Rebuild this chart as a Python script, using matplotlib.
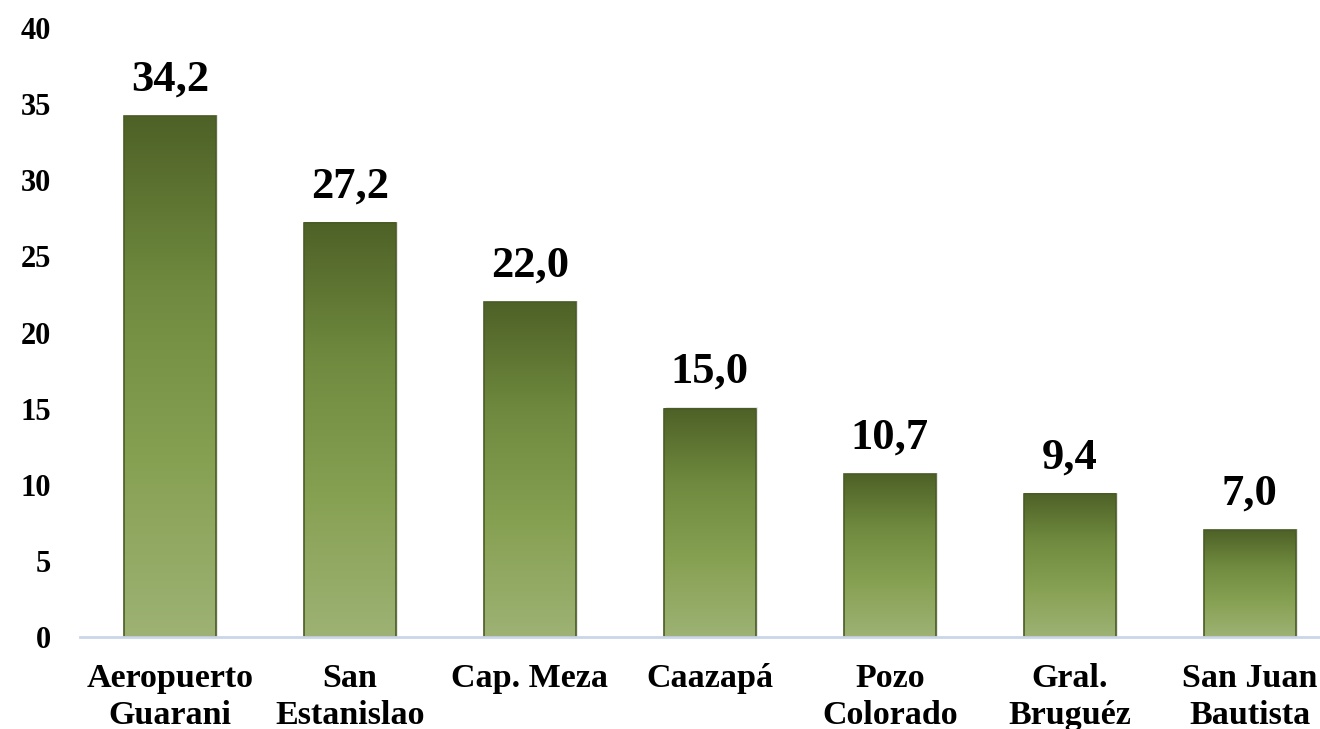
import matplotlib.pyplot as plt
import numpy as np
from matplotlib.colors import LinearSegmentedColormap
from matplotlib.patches import Rectangle

estaciones = ['Aeropuerto\nGuarani', 'San\nEstanislao', 'Cap. Meza', 'Caazapá',
              'Pozo\nColorado', 'Gral.\nBruguéz', 'San Juan\nBautista']
valores = [34.2, 27.2, 22.0, 15.0, 10.7, 9.4, 7.0]
etiquetas = ['34,2', '27,2', '22,0', '15,0', '10,7', '9,4', '7,0']
yticks = [0, 5, 10, 15, 20, 25, 30, 35, 40]

plt.rcParams['font.family'] = ['Liberation Serif', 'DejaVu Serif']
plt.rcParams['font.weight'] = 'bold'

W, H = 1320, 729
fig = plt.figure(figsize=(W / 100, H / 100), dpi=100)
ax = fig.add_axes([80 / W, 92 / H, (W - 80) / W, 609 / H])

# degradado: oscuro arriba, claro abajo
cmap = LinearSegmentedColormap.from_list('verde', ['#9db274', '#87a153', '#708b3f', '#4e6127'])
grad = np.linspace(0, 1, 256).reshape(-1, 1)

x = np.arange(len(valores))
width = 0.51
for xi, v, lab in zip(x, valores, etiquetas):
    # sombra suave
    ax.add_patch(Rectangle((xi - width / 2 + 0.012, 0), width, v + 0.08, color='#b8b8b8', alpha=0.35, zorder=1, lw=0))
    ax.imshow(grad, extent=(xi - width / 2, xi + width / 2, 0, v), origin='lower',
              cmap=cmap, aspect='auto', zorder=2)
    ax.add_patch(Rectangle((xi - width / 2, 0), width, v, fill=False, edgecolor='#4a5c25', lw=1.2, zorder=3))
    ax.text(xi, v + 1.1, lab, ha='center', va='bottom', fontsize=32, fontweight='bold', color='black')

ax.set_xlim(-0.5, 6.39)
ax.set_ylim(0, 40)
ax.set_xticks(x)
ax.set_xticklabels(estaciones, fontsize=24.5, fontweight='bold', linespacing=1.22)
ax.set_yticks(yticks)
ax.set_yticklabels([str(t) for t in yticks], fontsize=22, fontweight='bold')
ax.tick_params(axis='both', length=0)
ax.tick_params(axis='y', pad=21)
ax.tick_params(axis='x', pad=19)

for s in ['top', 'right', 'left']:
    ax.spines[s].set_visible(False)
ax.spines['bottom'].set_color('#cad6e8')
ax.spines['bottom'].set_linewidth(2)
ax.spines['bottom'].set_zorder(4)

fig.savefig('out.png', dpi=100)
